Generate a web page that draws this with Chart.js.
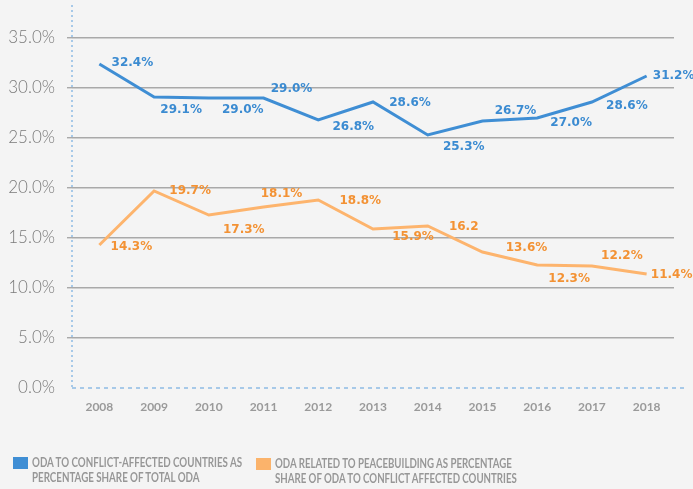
<!DOCTYPE html>
<html>
<head>
<meta charset="utf-8">
<script src="https://cdn.jsdelivr.net/npm/chart.js@4.4.0/dist/chart.umd.min.js"></script>
<style>
  html, body { margin: 0; padding: 0; background: #f4f4f4; }
  #wrap { position: relative; width: 693px; height: 489px; }
  .leg { position: absolute; white-space: nowrap; transform-origin: 0 0; font-family: Lato, sans-serif; font-weight: bold; font-size: 12.5px; line-height: 15px; color: #979797; }
  .box { position: absolute; width: 15px; height: 12px; }
</style>
</head>
<body>
<div id="wrap">
  <canvas id="myLineChart" width="693" height="489"></canvas>
  <div class="box" style="left:13px;top:457px;background:#3f8ed4"></div>
  <div class="leg" data-fit="210" style="left:32px;top:455px">ODA TO CONFLICT-AFFECTED COUNTRIES AS<br>PERCENTAGE SHARE OF TOTAL ODA</div>
  <div class="box" style="left:256px;top:458px;background:#fbb36b"></div>
  <div class="leg" data-fit="242" style="left:275px;top:456px">ODA RELATED TO PEACEBUILDING AS PERCENTAGE<br>SHARE OF ODA TO CONFLICT AFFECTED COUNTRIES</div>
</div>
<script>
var years = ["2008", "2009", "2010", "2011", "2012", "2013", "2014", "2015", "2016", "2017", "2018"];
var conflictShare = [32.4, 29.1, 29.0, 29.0, 26.8, 28.6, 25.3, 26.7, 27.0, 28.6, 31.2];
var peaceShare = [14.3, 19.7, 17.3, 18.1, 18.8, 15.9, 16.2, 13.6, 12.3, 12.2, 11.4];

var conflictLabels = conflictShare.map(function (v) { return v.toFixed(1) + "%"; });
var peaceLabels = peaceShare.map(function (v) { return v.toFixed(1) + "%"; });
peaceLabels[6] = "16.2";

// label offsets from each point (px)
var conflictOffsets = [[33, -1], [27, 13], [34, 12], [28, -9], [35, 7], [37, 1], [36, 12], [33, -10], [34, 5], [35, 4], [27, 0]];
var peaceOffsets = [[32, 2], [36, 0], [35, 15], [18, -13], [42, 1], [40, 8], [36, 1], [44, -4], [32, 14], [30, -10], [25, 1]];

// squeeze legend text to the width it has in the original
document.querySelectorAll(".leg").forEach(function (el) {
    var k = Number(el.dataset.fit) / el.scrollWidth;
    el.style.transform = "scaleX(" + k + ")";
});

var axisLines = {
    id: "axisLines",
    beforeDatasetsDraw: function (chart) {
        var ctx = chart.ctx, a = chart.chartArea;
        ctx.save();
        ctx.strokeStyle = "#8dbbe3";
        ctx.lineWidth = 1.5;
        ctx.setLineDash([2, 3]);
        ctx.beginPath();
        ctx.moveTo(a.left, 5);
        ctx.lineTo(a.left, a.bottom);
        ctx.stroke();
        ctx.setLineDash([4, 4]);
        ctx.beginPath();
        ctx.moveTo(a.left, a.bottom);
        ctx.lineTo(685, a.bottom);
        ctx.stroke();
        ctx.restore();
    }
};

var pointLabels = {
    id: "pointLabels",
    afterDatasetsDraw: function (chart) {
        var ctx = chart.ctx;
        ctx.save();
        ctx.font = "bold 12px 'DejaVu Sans', sans-serif";
        ctx.textAlign = "center";
        ctx.textBaseline = "middle";
        chart.data.datasets.forEach(function (ds, di) {
            var meta = chart.getDatasetMeta(di);
            meta.data.forEach(function (pt, i) {
                var off = ds.labelOffsets[i];
                ctx.fillStyle = ds.labelColor;
                ctx.fillText(ds.pointText[i], pt.x + off[0], pt.y + off[1]);
            });
        });
        ctx.restore();
    }
};

var lineChart = new Chart(document.getElementById("myLineChart"), {
    type: 'line',
    data: {
        labels: years,
        datasets: [{
            data: conflictShare,
            borderColor: "#3f8ed4",
            borderWidth: 3,
            pointRadius: 0,
            pointText: conflictLabels,
            labelOffsets: conflictOffsets,
            labelColor: "#3b8bd1"
        }, {
            data: peaceShare,
            borderColor: "#fdb46d",
            borderWidth: 3,
            pointRadius: 0,
            pointText: peaceLabels,
            labelOffsets: peaceOffsets,
            labelColor: "#f39234"
        }]
    },
    options: {
        responsive: false,
        animation: false,
        tension: 0,
        layout: { padding: { top: 38, right: 19, left: 0, bottom: 0 } },
        plugins: {
            legend: { display: false },
            tooltip: { enabled: false }
        },
        scales: {
            x: {
                offset: true,
                grid: { drawOnChartArea: false, drawTicks: false },
                border: { display: false },
                ticks: {
                    color: "#9a9a9a",
                    padding: 12,
                    font: { family: "Lato", weight: "bold", size: 12 }
                },
                afterFit: function (s) {
                    s.height = 101;
                    s.paddingLeft = 0;
                    s.paddingRight = 0;
                }
            },
            y: {
                min: 0,
                max: 35,
                grid: {
                    color: function (c) { return c.tick && c.tick.value === 0 ? "rgba(0,0,0,0)" : "#a9a9a9"; },
                    lineWidth: 1.4,
                    tickLength: 5
                },
                border: { display: false },
                ticks: {
                    stepSize: 5,
                    color: "#7a7a7a",
                    padding: 12,
                    font: { family: "Lato", weight: 300, size: 17 },
                    callback: function (v) { return v.toFixed(1) + "%"; }
                },
                afterFit: function (s) {
                    s.width = 72;
                    s.paddingTop = 0;
                    s.paddingBottom = 0;
                }
            }
        }
    },
    plugins: [axisLines, pointLabels]
});
</script>
</body>
</html>
